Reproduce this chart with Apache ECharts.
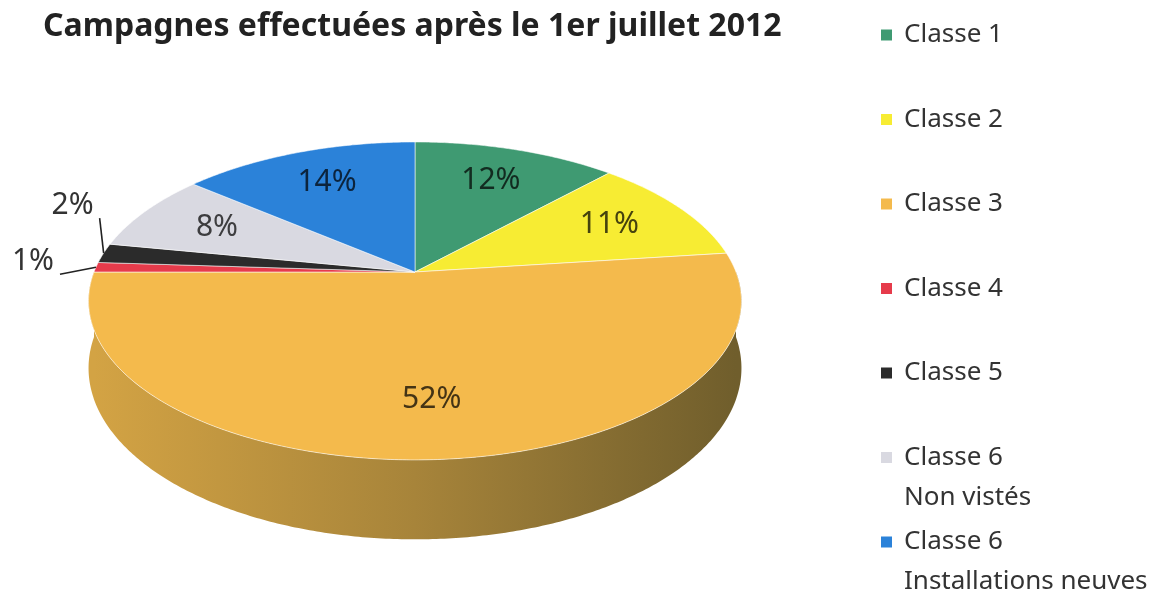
<!DOCTYPE html>
<html><head><meta charset="utf-8">
<script src="https://cdn.jsdelivr.net/npm/echarts@6/dist/echarts.min.js"></script>
<style>html,body{margin:0;padding:0;background:#fff}#c{width:1164px;height:599px}</style>
</head><body><div id="c"></div>
<script>
// ---- data ----
const categories = ['Classe 1', 'Classe 2', 'Classe 3', 'Classe 4', 'Classe 5', 'Classe 6\nNon vistés', 'Classe 6\nInstallations neuves'];
const values = [12, 11, 52, 1, 2, 8, 14];
const colors = ['#3f9a72', '#f7ec33', '#f4ba4c', '#e63b4b', '#2b2b2b', '#d9d9e1', '#2b82d9'];
const titleText = 'Campagnes effectuées après le 1er juillet 2012';

// ---- geometry / style ----
const G = { cx: 415, cy: 272, rx: 321, ry: 153.7, persp: 0.182, depth: 65, labelR: 0.72 };
const LEG = { x: 881, textX: 904, y0: 35, step: 84.5, box: 11 };
const smallLines = [{ dx: -36, dy: 7 }, { dx: -4, dy: -35 }];
const FONT = '"Noto Sans", "Open Sans", sans-serif';

const total = values.reduce((a, b) => a + b, 0);
const starts = []; let acc = 0;
values.forEach(v => { starts.push(acc / total * 2 * Math.PI); acc += v; });

function proj(t, r, down) {
  const X = r * Math.sin(t), Z = r * Math.cos(t);
  const s = 1 / (1 + G.persp * Z);
  return [G.cx + G.rx * X * s, G.cy - G.ry * Z * s + (down ? G.depth * s : 0)];
}
function arc(t0, t1, r, down) {
  const n = Math.max(2, Math.ceil((t1 - t0) / 0.01));
  const pts = [];
  for (let k = 0; k <= n; k++) pts.push(proj(t0 + (t1 - t0) * k / n, r, down));
  return pts;
}
function hex(c) { return [parseInt(c.slice(1, 3), 16), parseInt(c.slice(3, 5), 16), parseInt(c.slice(5, 7), 16)]; }
function mix(c, d, t) {
  const a = hex(c), b = hex(d);
  return 'rgb(' + a.map((v, k) => Math.round(v + (b[k] - v) * t)).join(',') + ')';
}

const data = values.map((v, i) => [i, v]);

function renderSide(params, api) {
  const i = api.value(0), v = api.value(1);
  let t0 = starts[i], t1 = t0 + v / total * 2 * Math.PI;
  t0 = Math.max(t0, Math.PI / 2); t1 = Math.min(t1, 3 * Math.PI / 2);
  if (t1 <= t0) return { type: 'group', children: [] };
  const pts = arc(t0, t1, 1, false).concat(arc(t0, t1, 1, true).reverse());
  const c = colors[i];
  return {
    type: 'polygon',
    shape: { points: pts },
    style: {
      fill: {
        type: 'linear', x: G.cx - G.rx, y: 0, x2: G.cx + G.rx, y2: 0, global: true,
        colorStops: [
          { offset: 0, color: mix(c, '#3d3a20', 0.18) },
          { offset: 0.5, color: mix(c, '#3d3a20', 0.42) },
          { offset: 1, color: mix(c, '#3d3a20', 0.72) }
        ]
      },
      stroke: null
    }
  };
}

let smallCount = 0;
function renderTop(params, api) {
  const i = api.value(0), v = api.value(1);
  if (i === 0) smallCount = 0;
  const t0 = starts[i], t1 = t0 + v / total * 2 * Math.PI;
  const pts = [[G.cx, G.cy]].concat(arc(t0, t1, 1, false));
  const children = [{
    type: 'polygon', shape: { points: pts },
    style: { fill: colors[i], stroke: 'rgba(255,255,255,0.55)', lineWidth: 1 }
  }];
  const tm = (t0 + t1) / 2;
  const label = v + '%';
  if (v >= 3) {
    const p = proj(tm, G.labelR, false);
    children.push({
      type: 'text', x: p[0], y: p[1], z2: 10,
      style: { text: label, fill: mix(colors[i], '#000000', 0.72), fontSize: 30, fontFamily: FONT, align: 'center', verticalAlign: 'middle' }
    });
  } else {
    const e = proj(tm, 1, false);
    const L = smallLines[smallCount++ % smallLines.length];
    const end = [e[0] + L.dx, e[1] + L.dy];
    children.push({ type: 'line', shape: { x1: e[0], y1: e[1], x2: end[0], y2: end[1] }, style: { stroke: '#222', lineWidth: 1.6 }, z2: 10 });
    children.push({
      type: 'text', x: end[0] - 6, y: end[1] + 2, z2: 10,
      style: { text: label, fill: '#333', fontSize: 30, fontFamily: FONT, align: 'right', verticalAlign: 'bottom' }
    });
  }
  // legend entry
  const ly = LEG.y0 + i * LEG.step;
  children.push({ type: 'rect', shape: { x: LEG.x, y: ly - LEG.box / 2, width: LEG.box, height: LEG.box }, style: { fill: colors[i] } });
  children.push({
    type: 'text', x: LEG.textX, y: ly - 20,
    style: { text: categories[i], fill: '#333', fontSize: 26, fontFamily: FONT, align: 'left', verticalAlign: 'top', lineHeight: 40 }
  });
  return { type: 'group', children };
}

const chart = echarts.init(document.getElementById('c'), null, { renderer: 'canvas' });
chart.setOption({
  animation: false,
  backgroundColor: '#fff',
  title: {
    text: titleText, left: 38, top: 6,
    textStyle: { fontSize: 32, fontWeight: 'bold', color: '#222', fontFamily: FONT }
  },
  series: [
    { type: 'custom', name: 'side', coordinateSystem: 'none', silent: true, z: 1, data: data, renderItem: renderSide },
    { type: 'custom', name: 'top', coordinateSystem: 'none', silent: true, z: 2, data: data, renderItem: renderTop }
  ]
});
</script>
</body></html>
